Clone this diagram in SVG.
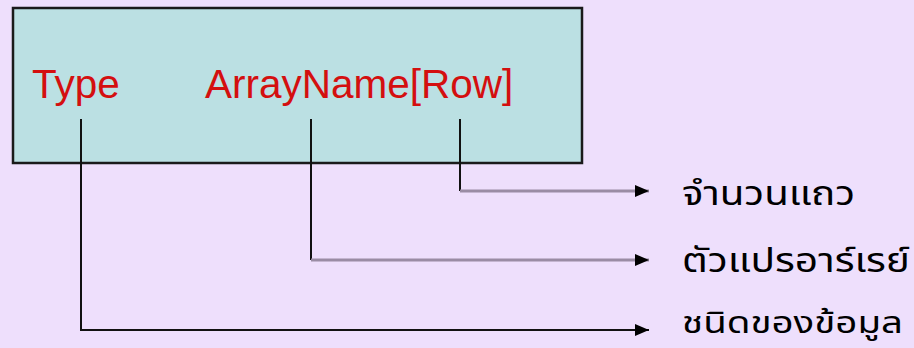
<svg xmlns="http://www.w3.org/2000/svg" width="914" height="348" viewBox="0 0 914 348">
  <style>
    .bg { fill: #eedffc; }
    .box { fill: #bbe0e3; stroke: #1a1a1a; stroke-width: 2.5; }
    .code { font-family: "Liberation Sans", Arial, sans-serif; font-size: 40.5px; fill: #d40f0f; }
    .label { font-family: "Noto Sans Thai", "DejaVu Sans", "Noto Sans", sans-serif; font-size: 33px; fill: #000000; }
    .lead { fill: none; stroke: #111111; stroke-width: 2; }
    .run { fill: none; stroke: #9a8ca4; stroke-width: 3; }
    .run-dark { fill: none; stroke: #111111; stroke-width: 2; }
  </style>
  <defs>
    <marker id="arrow" viewBox="0 0 14 14" refX="14" refY="7" markerWidth="14" markerHeight="14" markerUnits="userSpaceOnUse" orient="auto">
      <path d="M0,1 L14,7 L0,13 Z" fill="#000000"/>
    </marker>
  </defs>

  <rect class="bg" x="0" y="0" width="914" height="348"/>

  <g id="declaration">
    <rect class="box" x="13" y="8" width="569" height="155"/>
    <text class="code" x="32" y="98">Type</text>
    <text class="code" x="205" y="98">ArrayName[Row]</text>
  </g>

  <g id="connectors">
    <!-- Row -> number of rows -->
    <path class="lead" d="M460,119 V191"/>
    <path class="run" d="M460,191 H649" marker-end="url(#arrow)"/>
    <!-- ArrayName -> array variable -->
    <path class="lead" d="M311,119 V260"/>
    <path class="run" d="M311,260 H649" marker-end="url(#arrow)"/>
    <!-- Type -> data type -->
    <path class="run-dark" d="M81,119 V330 H649" marker-end="url(#arrow)"/>
  </g>

  <g id="label-rows">
    <text class="label" x="682" y="205" textLength="173" lengthAdjust="spacingAndGlyphs">จำนวนแถว</text>
  </g>
  <g id="label-array">
    <text class="label" x="682" y="272" textLength="228" lengthAdjust="spacingAndGlyphs">ตัวแปรอาร์เรย์</text>
  </g>
  <g id="label-type">
    <text class="label" x="682" y="333" style="font-size:31px" textLength="221" lengthAdjust="spacingAndGlyphs">ชนิดของข้อมูล</text>
  </g>
</svg>
